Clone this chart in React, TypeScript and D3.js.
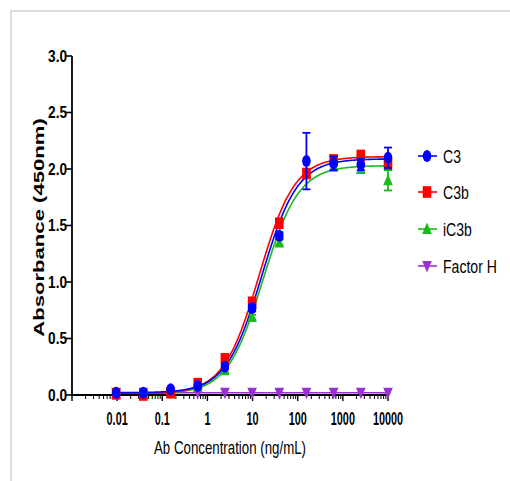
import React from "react";
import * as d3 from "d3";

const concentrations = [0.0095, 0.038, 0.153, 0.61, 2.44, 9.77, 39.1, 156, 625, 2500, 10000];
const seriesNames = ["C3", "C3b", "iC3b", "Factor H"];
const seriesColors = ["#0000ff", "#ff0000", "#1db91d", "#9b30d0"];
const seriesShapes = ["circle", "square", "triangle", "down"];
const c3Values = [0.02, 0.02, 0.05, 0.08, 0.25, 0.77, 1.41, 2.07, 2.05, 2.04, 2.1];
const c3Errors = [0, 0, 0, 0, 0.02, 0.03, 0.03, 0.25, 0.06, 0.05, 0.09];
const c3bValues = [0.01, 0.0, 0.02, 0.1, 0.32, 0.82, 1.52, 1.96, 2.08, 2.12, 2.05];
const c3bErrors = [0, 0, 0, 0, 0.02, 0.02, 0.03, 0.04, 0.04, 0.03, 0.05];
const ic3bValues = [0.01, 0.01, 0.02, 0.07, 0.22, 0.69, 1.35, 1.97, 2.02, 2.0, 1.9];
const ic3bErrors = [0, 0, 0, 0, 0.02, 0.02, 0.02, 0.03, 0.03, 0.03, 0.09];
const factorHValues = [0.02, 0.02, 0.02, 0.02, 0.02, 0.02, 0.02, 0.02, 0.02, 0.02, 0.02];
const factorHErrors = [0, 0, 0, 0, 0, 0, 0, 0, 0, 0, 0];
// 4-parameter logistic fit parameters per series
const fitBottom = [0.02, 0.01, 0.01, 0.02];
const fitTop = [2.09, 2.11, 2.03, 0.02];
const fitEC50 = [16, 14, 17, 1];
const fitHill = [1.1, 1.1, 1.1, 1];
const xTickValues = [0.01, 0.1, 1, 10, 100, 1000, 10000];
const xTickLabels = ["0.01", "0.1", "1", "10", "100", "1000", "10000"];
const yTickValues = [0, 0.5, 1, 1.5, 2, 2.5, 3];
const yTickLabels = ["0.0", "0.5", "1.0", "1.5", "2.0", "2.5", "3.0"];

const allValues = [c3Values, c3bValues, ic3bValues, factorHValues];
const allErrors = [c3Errors, c3bErrors, ic3bErrors, factorHErrors];

const FONT = "'Liberation Sans', Arial, sans-serif";

function NText({ x, y, anchor = "start", size, sx = 0.8, bold = false, dy = "0", children }: any) {
  return (
    <text
      transform={`translate(${x},${y}) scale(${sx},1)`}
      textAnchor={anchor}
      fontFamily={FONT}
      fontWeight={bold ? "bold" : "normal"}
      fontSize={size}
      dy={dy}
      fill="#000"
    >
      {children}
    </text>
  );
}

function Marker({ shape, cx, cy, color }: { shape: string; cx: number; cy: number; color: string }) {
  if (shape === "circle") return <ellipse cx={cx} cy={cy} rx={4.3} ry={6} fill={color} />;
  if (shape === "square") return <rect x={cx - 4.3} y={cy - 5.8} width={8.6} height={11.6} fill={color} />;
  if (shape === "triangle")
    return <path d={`M${cx},${cy - 6.5}L${cx + 4.8},${cy + 5}L${cx - 4.8},${cy + 5}Z`} fill={color} />;
  return <path d={`M${cx},${cy + 6.5}L${cx + 4.8},${cy - 5}L${cx - 4.8},${cy - 5}Z`} fill={color} />;
}

export default function App() {
  const W = 510;
  const H = 481;
  const x = d3.scaleLog().domain([0.001, 10000]).range([72, 388]);
  const y = d3.scaleLinear().domain([0, 3]).range([395, 56]);

  const minorTicks: number[] = [];
  for (let e = -3; e < 4; e++) {
    for (let m = 2; m <= 9; m++) minorTicks.push(m * Math.pow(10, e));
  }
  const majorTicks = [0.001, ...xTickValues];

  const lo = Math.log10(concentrations[0]);
  const hi = Math.log10(10000);
  const fitX = d3.range(0, 301).map((i) => Math.pow(10, lo + (i / 300) * (hi - lo)));
  const line = d3
    .line<[number, number]>()
    .x((d) => x(d[0]))
    .y((d) => y(d[1]));

  const fitPath = (s: number) =>
    line(
      fitX.map(
        (c) => [c, fitBottom[s] + (fitTop[s] - fitBottom[s]) / (1 + Math.pow(fitEC50[s] / c, fitHill[s]))] as [number, number]
      )
    ) || "";

  const legendY = [156, 192, 229, 266];

  return (
    <div style={{ position: "absolute", left: 0, top: 0 }}>
      <svg width={W} height={H} style={{ display: "block", background: "#fff" }}>
        <rect x={0} y={0} width={W} height={H} fill="#fff" />
        <path d={`M11,${H}V11H${W}`} fill="none" stroke="#dcdcdc" strokeWidth={2} />

        {[3, 2, 1, 0].map((s) => (
          <path key={"fit" + s} d={fitPath(s)} fill="none" stroke={seriesColors[s]} strokeWidth={1.6} />
        ))}

        <g stroke="#000" fill="none">
          <line x1={72} x2={72} y1={y(3)} y2={y(0) + 1} strokeWidth={1.8} />
          <line x1={72} x2={388} y1={395} y2={395} strokeWidth={1.8} />
          {yTickValues.map((v) => (
            <line key={"yt" + v} x1={66} x2={72} y1={y(v)} y2={y(v)} strokeWidth={1.6} />
          ))}
          {majorTicks.map((v) => (
            <line key={"xM" + v} x1={x(v)} x2={x(v)} y1={395} y2={401} strokeWidth={1.4} />
          ))}
          {minorTicks.map((v) => (
            <line key={"xm" + v} x1={x(v)} x2={x(v)} y1={395} y2={399} strokeWidth={1} />
          ))}
        </g>
        {yTickValues.map((v, i) => (
          <NText key={"yl" + v} x={67} y={y(v)} dy="0.36em" anchor="end" size={16} sx={0.85} bold>
            {yTickLabels[i]}
          </NText>
        ))}
        {xTickValues.map((v, i) => (
          <NText key={"xl" + v} x={x(v)} y={425} anchor="middle" size={17.5} sx={0.62} bold>
            {xTickLabels[i]}
          </NText>
        ))}
        <text
          transform={`translate(44,227.5) rotate(-90) scale(1.3,0.9)`}
          textAnchor="middle"
          fontFamily={FONT}
          fontWeight="bold"
          fontSize={17}
          fill="#000"
        >
          Absorbance (450nm)
        </text>
        <NText x={230} y={454} anchor="middle" size={19} sx={0.7}>
          Ab Concentration (ng/mL)
        </NText>

        {[3, 2, 1, 0].map((s) => (
          <g key={"pts" + s}>
            {concentrations.map((c, i) => {
              const v = allValues[s][i];
              const e = allErrors[s][i];
              const cx = x(c);
              if (e <= 0) return null;
              return (
                <g key={i} stroke={seriesColors[s]} strokeWidth={1.8}>
                  <line x1={cx} x2={cx} y1={y(v - e)} y2={y(v + e)} />
                  <line x1={cx - 4} x2={cx + 4} y1={y(v - e)} y2={y(v - e)} />
                  <line x1={cx - 4} x2={cx + 4} y1={y(v + e)} y2={y(v + e)} />
                </g>
              );
            })}
            {concentrations.map((c, i) => (
              <Marker key={"m" + i} shape={seriesShapes[s]} cx={x(c)} cy={y(allValues[s][i])} color={seriesColors[s]} />
            ))}
          </g>
        ))}

        {seriesNames.map((n, i) => (
          <g key={"lg" + n}>
            <line x1={418} x2={437} y1={legendY[i]} y2={legendY[i]} stroke={seriesColors[i]} strokeWidth={1.6} />
            <Marker shape={seriesShapes[i]} cx={427} cy={legendY[i]} color={seriesColors[i]} />
            <NText x={443} y={legendY[i]} dy="0.36em" size={18.5} sx={0.76}>
              {n}
            </NText>
          </g>
        ))}
      </svg>
    </div>
  );
}
